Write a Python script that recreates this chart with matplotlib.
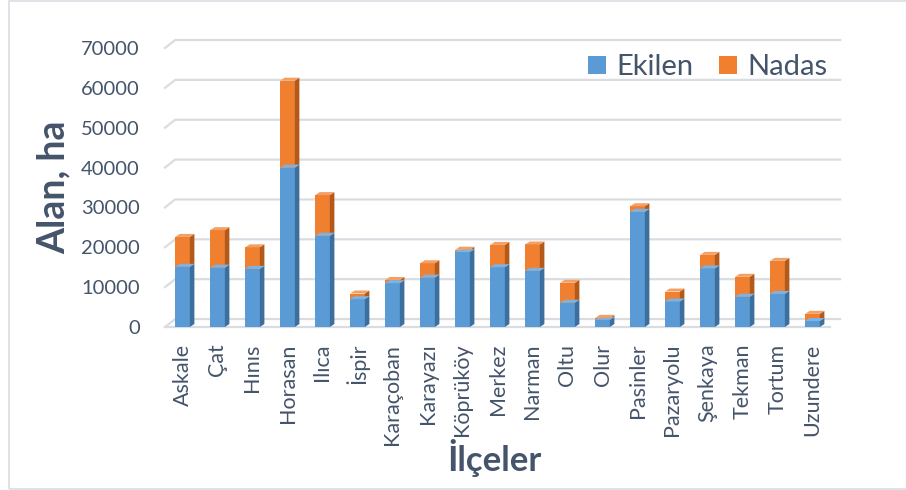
import matplotlib.pyplot as plt
from matplotlib.patches import Polygon, Patch, Rectangle
import numpy as np

ilceler = ["Askale", "Çat", "Hınıs", "Horasan", "Ilıca", "İspir", "Karaçoban",
           "Karayazı", "Köprüköy", "Merkez", "Narman", "Oltu", "Olur", "Pasinler",
           "Pazaryolu", "Şenkaya", "Tekman", "Tortum", "Uzundere"]
ekilen = [15100, 14900, 14600, 40000, 22900, 7000, 11000, 12400, 18800, 15000,
          14100, 6100, 1800, 28900, 6400, 14700, 7600, 8300, 1500]
nadas = [7500, 9400, 5400, 21800, 10200, 1400, 800, 3600, 600, 5600,
         6600, 5000, 500, 1400, 2500, 3400, 5000, 8300, 1800]
yticks = [0, 10000, 20000, 30000, 40000, 50000, 60000, 70000]

txt = "#44546A"
blue, blue_side, blue_top = "#5B9BD5", "#3C6E9E", "#7FB2E0"
orange, orange_side, orange_top = "#F0802F", "#B35A1B", "#F4A064"

plt.rcParams['font.family'] = ['Lato', 'DejaVu Sans']

fig = plt.figure(figsize=(9.06, 4.9), dpi=100)
fig.patches.append(Rectangle((9/906, 1/490), 1.2, 1 - 2/490, transform=fig.transFigure,
                             fill=False, edgecolor="#D9DDE2", linewidth=1.2))
ax = fig.add_axes([165/906, 1 - 327/490, 665/906, 279/490])

x = np.arange(len(ilceler))
w = 0.42
ddx, ddy = 0.13, 750      # bar depth
gdx, gdy = 0.29, 2000     # wall depth

ax.set_xlim(-0.5, len(ilceler) - 0.5)
ax.set_ylim(0, 70000)

# back wall gridlines with little perspective stubs
for v in yticks:
    ax.plot([-0.5, -0.5 + gdx, len(ilceler) - 0.5 + gdx], [v, v + gdy, v + gdy],
            color="#D9DDE2", lw=1.6, clip_on=False, zorder=0)
ax.plot([-0.5, len(ilceler) - 0.5], [0, 0], color="#D9DDE2", lw=1.6, clip_on=False, zorder=0)

def box3d(xc, y0, h, front, side, top):
    l, r = xc - w / 2, xc + w / 2
    ax.add_patch(Rectangle((l, y0), w, h, facecolor=front, edgecolor="none", zorder=3))
    ax.add_patch(Polygon([(r, y0), (r + ddx, y0 + ddy), (r + ddx, y0 + h + ddy), (r, y0 + h)],
                         closed=True, facecolor=side, edgecolor="none", zorder=3))
    ax.add_patch(Polygon([(l, y0 + h), (r, y0 + h), (r + ddx, y0 + h + ddy), (l + ddx, y0 + h + ddy)],
                         closed=True, facecolor=top, edgecolor="none", zorder=4))

for i in range(len(ilceler)):
    box3d(x[i], 0, ekilen[i], blue, blue_side, blue_top)
    box3d(x[i], ekilen[i], nadas[i], orange, orange_side, orange_top)

for s in ax.spines.values():
    s.set_visible(False)
ax.set_yticks(yticks)
ax.set_yticklabels([str(v) for v in yticks])
ax.set_xticks(x)
ax.set_xticklabels(ilceler, rotation=90)
ax.tick_params(axis='y', length=0, pad=18, labelsize=14.5, labelcolor=txt)
ax.tick_params(axis='x', length=0, pad=12, labelsize=15.5, labelcolor=txt)

fig.text(54/906, 1 - 187/490, "Alan, ha", rotation=90, fontsize=27, fontweight='bold',
         color=txt, ha='center', va='center')
fig.text(494/906, 1 - 458/490, "İlçeler", fontsize=25, fontweight='bold',
         color=txt, ha='center', va='center')

handles = [Patch(facecolor=blue, label="Ekilen"), Patch(facecolor=orange, label="Nadas")]
leg = ax.legend(handles=handles, loc="upper right", bbox_to_anchor=(1.022, 1.04), ncol=2,
                frameon=False, fontsize=21, handlelength=0.6, handleheight=0.6,
                handletextpad=0.35, columnspacing=0.9, borderaxespad=0.2)
for t in leg.get_texts():
    t.set_color(txt)

fig.savefig("out.png", dpi=100)
